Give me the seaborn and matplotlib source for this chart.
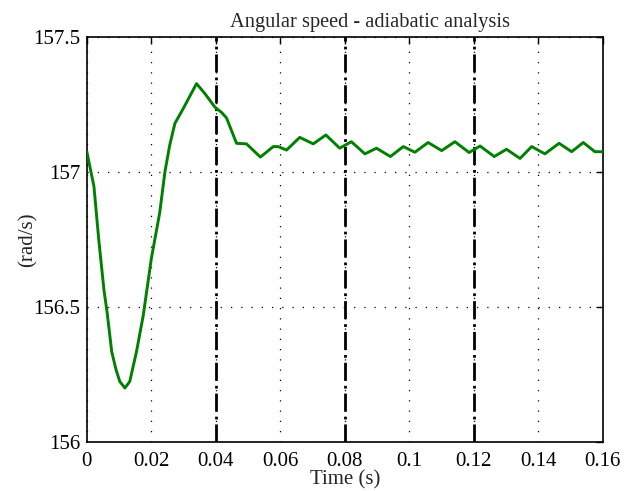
import matplotlib
matplotlib.use("Agg")
import matplotlib.pyplot as plt
import matplotlib.ticker as mticker
import seaborn as sns
import pandas as pd

# ---- data ----
time_s = [0.0, 0.0022, 0.0037, 0.0053, 0.0063, 0.0077, 0.0090, 0.0102, 0.0118,
          0.0133, 0.0154, 0.0175, 0.0200, 0.0226, 0.0242, 0.0257, 0.0273, 0.0299,
          0.0319, 0.0340, 0.0366, 0.0397, 0.0418, 0.0433, 0.0464, 0.0495, 0.0538,
          0.0578, 0.0593, 0.0619, 0.0660, 0.0702, 0.0741, 0.0784, 0.0820, 0.0862,
          0.0898, 0.0941, 0.0981, 0.1017, 0.1058, 0.1100, 0.1141, 0.1185, 0.1219,
          0.1263, 0.1301, 0.1343, 0.1379, 0.1420, 0.1464, 0.1503, 0.1539, 0.1575,
          0.1600]
speed = [157.075, 156.946, 156.748, 156.563, 156.478, 156.335, 156.27, 156.224, 156.20,
         156.224, 156.335, 156.47, 156.68, 156.85, 157.00, 157.10, 157.18, 157.235,
         157.28, 157.327, 157.29, 157.24, 157.22, 157.20, 157.106, 157.104, 157.055,
         157.094, 157.094, 157.081, 157.128, 157.104, 157.137, 157.088, 157.112, 157.067,
         157.088, 157.057, 157.094, 157.073, 157.109, 157.079, 157.112, 157.072, 157.096,
         157.057, 157.084, 157.050, 157.094, 157.067, 157.106, 157.075, 157.109, 157.075,
         157.075]
x_ticks = [0, 0.02, 0.04, 0.06, 0.08, 0.1, 0.12, 0.14, 0.16]
y_ticks = [156, 156.5, 157, 157.5]
event_times = [0.04, 0.08, 0.12]
title = "Angular speed - adiabatic analysis"
x_label = "Time (s)"
y_label = "(rad/s)"

df = pd.DataFrame({"t": time_s, "w": speed})

sns.set_style("white")
plt.rcParams["font.family"] = ["Liberation Serif", "DejaVu Serif"]

fig = plt.figure(figsize=(6.34, 4.91), dpi=100)
ax = fig.add_axes([0.137, 0.0998, 0.814, 0.825])

ax.grid(True, color="black", linestyle=(0, (1, 7.2)), linewidth=0.9)
ax.set_axisbelow(True)

sns.lineplot(data=df, x="t", y="w", ax=ax, color="#008000", linewidth=2.1, zorder=3)

for et in event_times:
    ax.axvline(et, color="black", linewidth=2.0, linestyle=(0, (6.5, 1.8, 1.0, 1.8)), zorder=2)

ax.set_xlim(x_ticks[0], x_ticks[-1])
ax.set_ylim(y_ticks[0], y_ticks[-1])
ax.set_xticks(x_ticks)
ax.set_yticks(y_ticks)
ax.xaxis.set_major_formatter(mticker.FormatStrFormatter("%g"))
ax.yaxis.set_major_formatter(mticker.FormatStrFormatter("%g"))
ax.tick_params(direction="in", top=True, right=True, length=5, width=1,
               labelsize=15, colors="black")
ax.tick_params(axis="x", pad=7)
ax.tick_params(axis="y", pad=4.5)

for s in ax.spines.values():
    s.set_visible(True)
    s.set_color("black")
    s.set_linewidth(1.2)

ax.set_title(title, fontsize=14.7, x=0.548, pad=7)
ax.set_xlabel(x_label, fontsize=15, labelpad=0)
ax.set_ylabel(y_label, fontsize=15, labelpad=-3)

fig.savefig("out.png", dpi=100, facecolor="white")
